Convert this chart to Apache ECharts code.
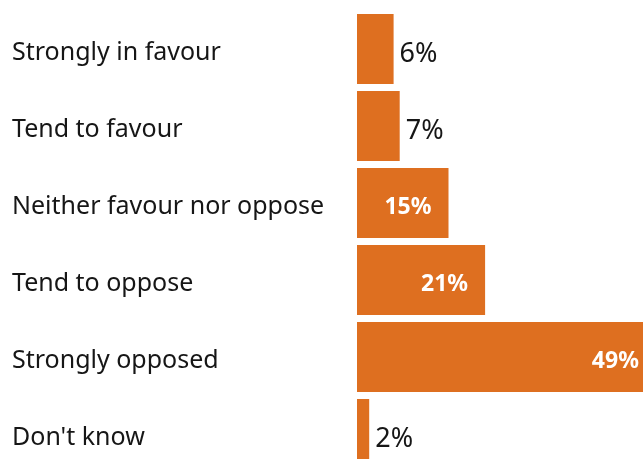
<!DOCTYPE html>
<html>
<head>
<meta charset="utf-8">
<script src="https://cdn.jsdelivr.net/npm/echarts@6/dist/echarts.min.js"></script>
<style>
  html, body { margin: 0; padding: 0; background: #ffffff; overflow: hidden; }
  /* The drawing surface runs past the window so the longest bar and the last row bleed off the edges */
  #chart { width: 680px; height: 480px; }
</style>
</head>
<body>
<div id="chart"></div>
<script>
// Survey responses, top to bottom
const categories = [
  'Strongly in favour',
  'Tend to favour',
  'Neither favour nor oppose',
  'Tend to oppose',
  'Strongly opposed',
  "Don't know"
];
const shares = [6, 7, 15, 21, 49, 2];

const BAR_COLOR = '#DE6F20';
const TEXT_COLOR = '#161616';
const FONT = '"Noto Sans", "Open Sans", sans-serif';

// Wide bars carry a white label inside; narrow ones get a dark label just outside
const barData = shares.map(function (v) {
  const inside = v >= 10;
  return {
    value: v,
    label: inside
      ? { position: 'insideRight', distance: 17, offset: [0, 4], color: '#ffffff', fontWeight: 'bold', fontSize: 23 }
      : { position: 'right', distance: 6, offset: [0, 5], color: TEXT_COLOR, fontWeight: 'normal', fontSize: 27 }
  };
});

const chart = echarts.init(document.getElementById('chart'), null, { renderer: 'canvas' });
chart.setOption({
  animation: false,
  backgroundColor: '#ffffff',
  textStyle: { fontFamily: FONT },
  grid: { left: 357, top: 10.5, width: 305, height: 462, containLabel: false },
  xAxis: {
    type: 'value',
    min: 0,
    max: 50,
    show: false
  },
  yAxis: {
    type: 'category',
    data: categories,
    inverse: true,
    axisLine: { show: false },
    axisTick: { show: false },
    splitLine: { show: false },
    axisLabel: {
      align: 'left',
      margin: 345,
      color: TEXT_COLOR,
      fontSize: 25,
      fontFamily: FONT,
      formatter: function (v) { return '{c|' + v + '}'; },
      rich: {
        c: { fontSize: 25, color: TEXT_COLOR, fontFamily: FONT, padding: [8, 0, 0, 0] }
      }
    }
  },
  series: [{
    type: 'bar',
    data: barData,
    barWidth: 70,
    itemStyle: { color: BAR_COLOR },
    label: {
      show: true,
      fontFamily: FONT,
      formatter: function (p) { return p.value + '%'; }
    }
  }]
});
</script>
</body>
</html>
